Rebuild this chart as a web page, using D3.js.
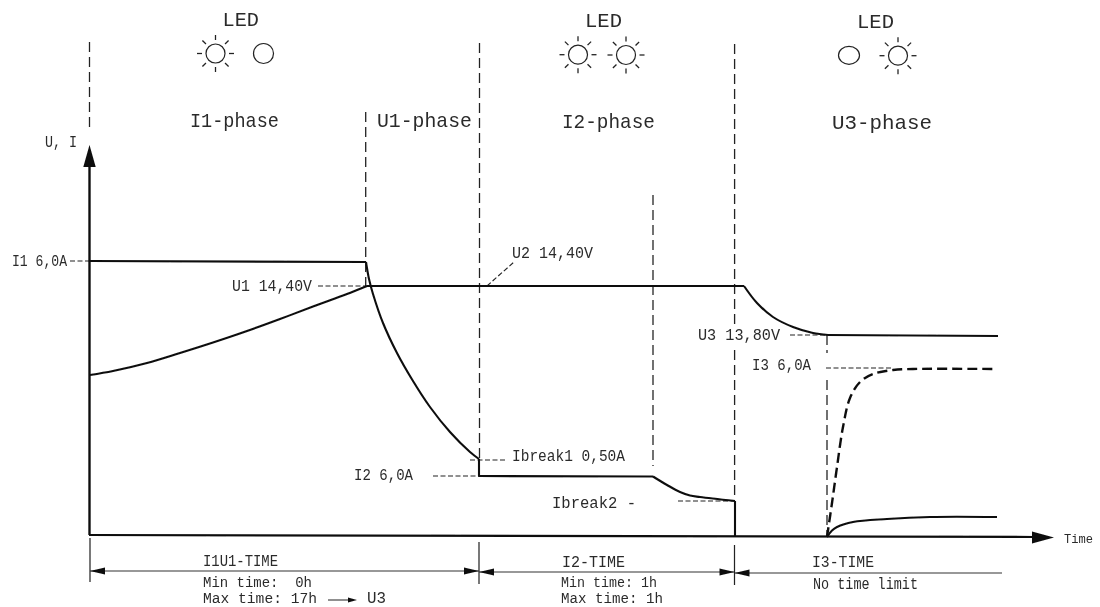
<!DOCTYPE html>
<html>
<head>
<meta charset="utf-8">
<script src="https://cdn.jsdelivr.net/npm/d3@7/dist/d3.min.js"></script>
<style>
html,body{margin:0;padding:0;background:#fff;}
svg{display:block;}
text{font-family:"Liberation Mono","DejaVu Sans Mono",monospace;fill:#2c2c2c;white-space:pre;}
</style>
</head>
<body>
<svg id="chart" width="1100" height="607"></svg>
<script>
// Each point is [time, level]; neither axis has a numeric scale in the source.
const voltageRise   = [[1,160],[24,164],[58,172],[91,182],[124,192.5],[158,204],[191,216],[224,228.5],[258,241],[278,249]];
const voltageFlat   = [[278,249],[655,249]];
const voltageDecay  = [[655,249],[668,232],[684,218],[704,208],[724,202],[739,200]];
const voltageFloat  = [[739,200],[909,199]];
const currentFlat   = [[1,274],[277,273]];
const currentDecay  = [[277,273],[280,256],[284,241],[294,212],[308,182],[324,154],[341,128],[361,103],[381,83],[390,76]];
const currentStep   = [[390,76],[390,59],[564,58.5]];
const currentTaper  = [[564,58.5],[578,50],[591,43],[601,39.5],[611,38],[646,34]];
const currentDrop   = [[646,34],[646,-1]];
const currentRise   = [[738,-2],[743,4.5],[748,8],[764,13],[798,16],[841,18],[908,18]];
const loadCurrent   = [[738,-2],[743,32],[748,68],[754,108],[761,137],[771,153],[784,161],[804,165],[824,166],[908,166]];

const ledLabels    = ["LED","LED","LED"];
const phaseLabels  = ["I1-phase","U1-phase","I2-phase","U3-phase"];
const levelLabels  = ["U, I","I1 6,0A","U1 14,40V","U2 14,40V","Ibreak1 0,50A","I2 6,0A","Ibreak2 -","U3 13,80V","I3 6,0A","Time"];
const timeLabels   = ["I1U1-TIME","Min time:  0h","Max time: 17h","U3","I2-TIME","Min time: 1h","Max time: 1h","I3-TIME","No time limit"];

const svg = d3.select("#chart");
const defs = svg.append("defs");
defs.append("filter").attr("id","scan").attr("filterUnits","userSpaceOnUse")
  .attr("x",0).attr("y",0).attr("width",1100).attr("height",607)
  .append("feGaussianBlur").attr("stdDeviation",0.35);
const x = d3.scaleLinear().domain([0,951]).range([89,1040]);
const y = d3.scaleLinear().domain([0,400]).range([535,135]);

const ink = "#111";
const line = d3.line().x(d=>x(d[0])).y(d=>y(d[1]));
const spline = d3.line().x(d=>x(d[0])).y(d=>y(d[1])).curve(d3.curveCatmullRom.alpha(0.5));

const root = svg.append("g").attr("filter","url(#scan)");

function seg(x1,y1,x2,y2,w,color,dash){
  const l = root.append("line").attr("x1",x1).attr("y1",y1).attr("x2",x2).attr("y2",y2)
    .attr("stroke",color).attr("stroke-width",w);
  if(dash) l.attr("stroke-dasharray",dash);
  return l;
}
const guide = "#222", guideDash = "10 5", shortDash = "5 2.5";

// phase separators
[[89.5,42,132],[365.7,112,290],[479.5,43,459],[653,195,466],[734.6,44,327],[734.6,350,500],[827,335,353],[827,380,537]]
  .forEach(d=>seg(d[0],d[1],d[0],d[2],1.3,guide,guideDash));

// leader lines
[[70,261,89,261],[318,286,367,286],[470,460,507,460],[433,476,479,476],[678,501,735,501],[790,335,827,335],[826,368,893,368],[487,286,514,262]]
  .forEach(d=>seg(d[0],d[1],d[2],d[3],1.1,guide,shortDash));

// axes
seg(89.5,166,89.5,535,2.4,ink);
root.append("path").attr("fill",ink).attr("d",d3.line()([[89.5,145],[95.7,167],[83.3,167]])+"Z");
seg(89,535,1034,537,2.2,ink);
root.append("path").attr("fill",ink).attr("d",d3.line()([[1054,537.5],[1032,531.5],[1032,543.5]])+"Z");

// data curves
[[voltageFlat,line],[voltageFloat,line],[voltageRise,spline],[voltageDecay,spline],
 [currentFlat,line],[currentDecay,spline],[currentStep,line],[currentTaper,spline],[currentDrop,line],[currentRise,spline]]
 .forEach(([d,g])=>root.append("path").attr("d",g(d)).attr("fill","none").attr("stroke",ink).attr("stroke-width",2.1).attr("stroke-linejoin","round"));
root.append("path").attr("d",spline(loadCurrent)).attr("fill","none").attr("stroke",ink)
  .attr("stroke-width",2.4).attr("stroke-dasharray","10 5");

// time dimension lines
[[90,538,582],[479,542,584],[734.5,545,585]].forEach(d=>seg(d[0],d[1],d[0],d[2],1.2,"#222"));
function head(px,py,dir,len,h){
  root.append("path").attr("fill",ink).attr("d",d3.line()([[px,py],[px+dir*len,py-h],[px+dir*len,py+h]])+"Z");
}
[[90,479,571],[479,734.5,572],[734.5,1002,573]].forEach((d,i)=>{
  seg(d[0],d[2],d[1],d[2],1.1,"#333");
  head(d[0],d[2],1,15,3.5);
  if(i<2) head(d[1],d[2],-1,15,3.5);
});
seg(328,600,350,600,1.1,"#333");
head(357,600,-1,9,2.5);

// LED symbols
function sun(cx,cy){
  root.append("circle").attr("cx",cx).attr("cy",cy).attr("r",9.5).attr("fill","none").attr("stroke","#222").attr("stroke-width",1.2);
  d3.range(8).forEach(i=>{
    const a=i*Math.PI/4, c=Math.cos(a), s=Math.sin(a);
    seg(cx+13.5*c,cy+13.5*s,cx+18.5*c,cy+18.5*s,1.3,"#222");
  });
}
sun(215.5,53.5); sun(578,54.7); sun(626,55); sun(898,55.7);
root.append("ellipse").attr("cx",263.5).attr("cy",53.5).attr("rx",10).attr("ry",10).attr("fill","none").attr("stroke","#222").attr("stroke-width",1.2);
root.append("ellipse").attr("cx",849).attr("cy",55.3).attr("rx",10.5).attr("ry",9).attr("fill","none").attr("stroke","#222").attr("stroke-width",1.2);

// text: x-start, x-end, baseline, size
function label(s,x0,x1,base,size){
  root.append("text").attr("x",x0).attr("y",base).attr("font-size",size)
    .attr("textLength",x1-x0).attr("lengthAdjust","spacingAndGlyphs").text(s);
}
[[222.5,259,26],[585,622,27],[857,894,28]].forEach((p,i)=>label(ledLabels[i],p[0],p[1],p[2],21));
[[190,279,127],[377,472,127],[562,655,128],[832,932,129]].forEach((p,i)=>label(phaseLabels[i],p[0],p[1],p[2],21));
[[45,77,147,17],[12,67,266,16],[232,312,291,16],[512,593,258,16],[512,625,461,16],[354,413,480,16],[552,636,508,16],[698,780,340,16],[752,811,370,16],[1064,1093,543,13]]
  .forEach((p,i)=>label(levelLabels[i],p[0],p[1],p[2],p[3]));
[[203,278,566,16],[203,312,587,14.5],[203,317,603,14.5],[367,386,603,16],[562,625,567,16],[561,657,587,14.5],[561,663,603,14.5],[812,874,567,16],[813,918,589,16]]
  .forEach((p,i)=>label(timeLabels[i],p[0],p[1],p[2],p[3]));
</script>
</body>
</html>
